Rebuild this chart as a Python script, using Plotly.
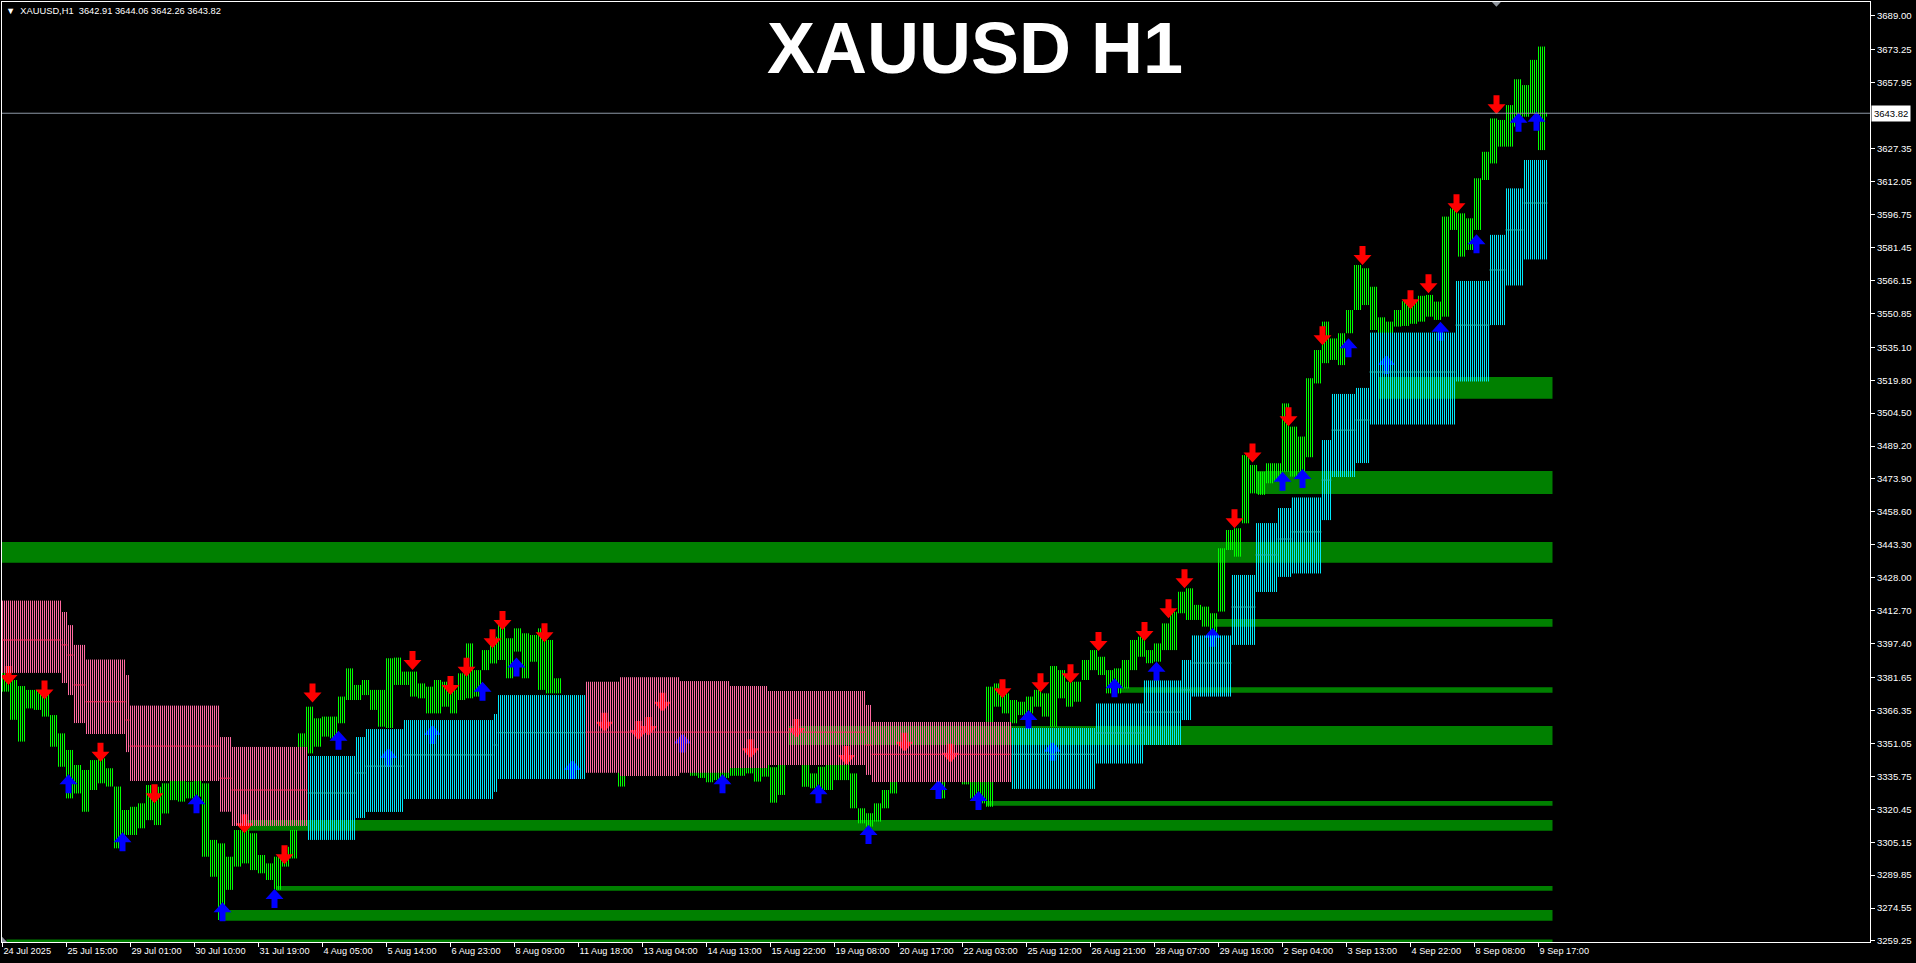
import plotly.graph_objects as go

# ---- price bars, grouped 4 x H1 bars per column (high / low) ----
bar_high = [
    3385.1, 3380.5, 3377.7, 3375.9, 3375.9, 3374.3, 3364.2, 3355.7, 3348.0, 3341.0,
    3338.7, 3343.3, 3344.1, 3339.5, 3331.0, 3320.1, 3321.6, 3323.2, 3331.7, 3330.9,
    3332.5, 3334.0, 3334.0, 3333.3, 3334.0, 3332.5, 3306.2, 3304.6, 3298.4, 3310.8,
    3310.8, 3309.3, 3299.2, 3295.3, 3298.4, 3303.0, 3310.8, 3355.7, 3368.1, 3362.7,
    3363.5, 3363.5, 3372.8, 3385.9, 3378.2, 3380.5, 3375.9, 3375.9, 3390.6, 3390.9,
    3384.4, 3384.4, 3378.9, 3377.4, 3380.5, 3379.7, 3375.9, 3383.6, 3397.5, 3385.1,
    3394.4, 3400.6, 3408.4, 3399.9, 3404.5, 3402.2, 3401.4, 3404.5, 3399.1, 3381.3,
    3373.0, 3368.0, 3366.0, 3360.0, 3358.0, 3356.0, 3352.0, 3350.0, 3350.0, 3352.0,
    3353.0, 3360.0, 3362.0, 3358.0, 3352.0, 3350.0, 3348.0, 3347.0, 3345.0, 3346.0,
    3344.0, 3343.0, 3345.0, 3347.0, 3345.0, 3342.0, 3340.0, 3342.0, 3350.0, 3348.0,
    3341.0, 3337.1, 3340.2, 3342.5, 3343.3, 3342.5, 3337.1, 3320.9, 3318.6, 3323.2,
    3329.4, 3335.6, 3342.0, 3348.0, 3346.0, 3344.0, 3343.0, 3340.0, 3343.0, 3340.0,
    3338.0, 3336.0, 3333.5, 3377.4, 3378.9, 3374.3, 3371.2, 3370.4, 3372.8, 3375.9,
    3374.3, 3387.0, 3385.1, 3379.7, 3379.7, 3389.8, 3394.4, 3391.3, 3385.1, 3385.9,
    3389.8, 3399.1, 3400.6, 3394.4, 3397.5, 3406.8, 3412.2, 3421.5, 3423.1, 3415.4,
    3414.6, 3411.5, 3441.7, 3450.2, 3451.0, 3485.0, 3480.4, 3477.3, 3481.2, 3481.2,
    3509.0, 3498.2, 3493.6, 3520.7, 3533.8, 3547.0, 3539.2, 3541.6, 3552.4, 3573.3,
    3571.8, 3563.2, 3549.0, 3547.0, 3552.4, 3556.5, 3556.5, 3559.0, 3559.4, 3556.3,
    3595.8, 3599.6, 3597.3, 3595.0, 3613.6, 3625.9, 3641.4, 3640.7, 3647.6, 3659.6,
    3656.9, 3668.6, 3674.8, 3644.06,
]
bar_low = [
    3375.1, 3362.0, 3351.9, 3367.3, 3366.6, 3363.5, 3349.5, 3340.2, 3325.5, 3327.8,
    3319.3, 3329.4, 3332.5, 3331.0, 3302.3, 3308.5, 3308.5, 3311.6, 3315.4, 3313.1,
    3318.5, 3324.7, 3324.0, 3325.5, 3326.3, 3298.4, 3289.1, 3269.0, 3283.0, 3293.8,
    3295.3, 3292.2, 3290.7, 3287.6, 3283.0, 3293.8, 3297.6, 3346.4, 3346.4, 3349.5,
    3354.2, 3353.4, 3360.4, 3371.2, 3371.2, 3373.5, 3366.6, 3358.8, 3358.2, 3378.2,
    3378.2, 3372.8, 3372.0, 3365.0, 3365.0, 3368.1, 3365.0, 3371.2, 3372.0, 3372.8,
    3385.1, 3388.2, 3389.8, 3381.3, 3393.7, 3381.3, 3389.0, 3375.9, 3374.3, 3374.3,
    3362.0, 3356.0, 3352.0, 3349.0, 3347.0, 3345.0, 3340.0, 3331.0, 3338.0, 3340.0,
    3341.0, 3346.0, 3348.0, 3344.0, 3340.0, 3338.0, 3336.0, 3335.0, 3333.0, 3334.0,
    3335.0, 3336.0, 3336.0, 3337.1, 3333.3, 3335.6, 3323.5, 3327.1, 3341.0, 3341.0,
    3330.9, 3330.2, 3329.4, 3329.4, 3334.0, 3334.0, 3320.9, 3313.9, 3312.4, 3314.7,
    3320.9, 3327.8, 3335.0, 3336.0, 3335.0, 3334.0, 3334.0, 3325.5, 3335.0, 3334.0,
    3332.0, 3325.5, 3323.2, 3321.6, 3368.1, 3365.0, 3360.4, 3364.2, 3365.0, 3368.1,
    3363.5, 3358.8, 3372.0, 3368.1, 3370.4, 3380.5, 3385.1, 3382.8, 3374.3, 3374.3,
    3376.6, 3385.1, 3391.3, 3388.3, 3389.0, 3394.4, 3394.4, 3411.5, 3408.4, 3408.4,
    3405.3, 3402.2, 3412.3, 3440.9, 3437.8, 3453.3, 3467.2, 3466.5, 3471.9, 3472.7,
    3477.3, 3475.0, 3477.3, 3484.0, 3518.3, 3527.7, 3529.2, 3526.8, 3541.6, 3552.4,
    3554.7, 3543.1, 3539.0, 3539.0, 3544.7, 3545.0, 3546.0, 3547.0, 3549.3, 3547.8,
    3549.3, 3589.6, 3577.2, 3580.3, 3589.6, 3612.8, 3620.5, 3628.3, 3628.3, 3637.6,
    3642.2, 3643.8, 3626.7, 3642.26,
]
BARS_PER_GROUP = 4
LAST_BAR = 772

# ---- trend cloud: steps (first bar, end bar, upper, lower, middle, trend) ----
cloud_start = [0, 30, 33, 36, 42, 62, 64, 109, 115, 153, 177, 182, 201, 246, 248,
               292, 309, 339, 364, 383, 432, 435, 505, 547, 571, 590, 595, 615,
               627, 638, 645, 660, 665, 677, 684, 727, 744, 752, 761]
cloud_end = [30, 33, 36, 42, 62, 64, 109, 115, 153, 177, 182, 201, 246, 248, 292,
             309, 339, 364, 383, 432, 435, 505, 547, 571, 590, 595, 615, 627,
             638, 645, 660, 665, 677, 684, 727, 744, 752, 761, 773]
cloud_upper = [3417.4, 3412.1, 3406.0, 3396.8, 3390.0, 3382.8, 3368.6, 3354.0, 3349.4,
               3345.2, 3354.0, 3357.7, 3361.9, 3364.7, 3373.5, 3379.7, 3381.8, 3380.0,
               3377.7, 3375.4, 3368.9, 3361.0, 3358.2, 3369.6, 3380.3, 3389.8, 3401.2,
               3429.3, 3453.4, 3460.4, 3465.3, 3492.0, 3513.4, 3516.2, 3541.9, 3565.9,
               3587.3, 3608.9, 3622.1]
cloud_lower = [3383.8, 3379.1, 3373.5, 3360.5, 3355.4, 3347.0, 3333.6, 3319.3, 3312.7,
               3306.2, 3316.4, 3319.2, 3325.2, 3328.5, 3334.5, 3337.4, 3335.9, 3337.4,
               3339.6, 3341.0, 3336.4, 3333.1, 3329.9, 3341.7, 3350.3, 3361.9, 3372.8,
               3396.8, 3421.4, 3428.4, 3430.0, 3454.8, 3474.8, 3481.3, 3499.2, 3519.2,
               3545.4, 3563.8, 3575.9]
cloud_mid = [3399.1, 3396.8, 3392.1, 3378.2, 3370.4, 3361.9, 3349.8, 3334.9, 3329.4,
             3328.0, 3337.3, 3340.5, 3345.7, 3350.3, 3356.0, 3356.3, 3356.3, 3356.3,
             3356.3, 3356.3, 3350.3, 3346.0, 3346.0, 3355.9, 3365.6, 3375.9, 3388.4,
             3414.4, 3438.6, 3446.0, 3449.3, 3473.4, 3496.6, 3501.3, 3523.6, 3545.4,
             3571.0, 3589.6, 3602.1]
cloud_trend = ["down"] * 9 + ["up"] * 6 + ["down"] * 7 + ["up"] * 17

# ---- support / resistance zones ----
zone_start = [-0.25, 627, 688, 606, 559, 393, 492, 122, 137, 109, 2]
zone_top = [3444.6, 3477.6, 3521.3, 3408.8, 3377.1, 3359.1, 3324.3, 3315.5, 3284.8, 3273.7, 3259.9]
zone_bottom = [3435.0, 3466.9, 3511.2, 3405.3, 3374.6, 3350.3, 3322.1, 3310.5, 3282.6, 3268.7, 3258.8]
zone_end = 775

# ---- signal arrows (bar index, price at the arrow tip) ----
red_arrow_bar = [3, 21, 49, 76, 121, 141, 155, 205, 224, 232, 245, 250, 271, 301, 318,
                 323, 330, 374, 397, 422, 451, 474, 500, 519, 534, 548, 571, 583, 591,
                 616, 625, 643, 660, 680, 704, 713, 727, 747]
red_arrow_price = [3378.2, 3371.5, 3342.5, 3323.2, 3309.3, 3294.9, 3370.1, 3385.1, 3373.5,
                   3382.0, 3395.2, 3403.7, 3398.0, 3356.5, 3352.6, 3354.5, 3365.8, 3344.1,
                   3353.5, 3341.0, 3347.2, 3342.1, 3372.0, 3374.8, 3379.0, 3394.0, 3398.6,
                   3409.2, 3423.1, 3451.0, 3481.6, 3498.4, 3536.0, 3573.3, 3552.7, 3560.2,
                   3597.3, 3643.3]
blue_arrow_bar = [33, 60, 97, 110, 136, 168, 193, 215, 240, 257, 285, 340, 360, 408, 433,
                  468, 488, 513, 525, 556, 577, 605, 640, 650, 673, 692, 719, 737, 758, 767]
blue_arrow_price = [3336.7, 3309.8, 3327.4, 3277.2, 3283.4, 3356.9, 3348.9, 3359.6, 3379.7,
                    3391.0, 3343.3, 3355.7, 3336.7, 3332.1, 3313.1, 3334.0, 3328.9, 3366.6,
                    3351.8, 3381.3, 3389.0, 3404.8, 3477.3, 3478.5, 3539.3, 3531.5, 3547.0,
                    3587.6, 3644.1, 3644.5]

# ---- axes ----
time_labels = ["24 Jul 2025", "25 Jul 15:00", "29 Jul 01:00", "30 Jul 10:00", "31 Jul 19:00",
               "4 Aug 05:00", "5 Aug 14:00", "6 Aug 23:00", "8 Aug 09:00", "11 Aug 18:00",
               "13 Aug 04:00", "14 Aug 13:00", "15 Aug 22:00", "19 Aug 08:00", "20 Aug 17:00",
               "22 Aug 03:00", "25 Aug 12:00", "26 Aug 21:00", "28 Aug 07:00", "29 Aug 16:00",
               "2 Sep 04:00", "3 Sep 13:00", "4 Sep 22:00", "8 Sep 08:00", "9 Sep 17:00"]
BARS_PER_LABEL = 32
price_ticks = [3689.00, 3673.25, 3657.95, 3627.35, 3612.05, 3596.75, 3581.45, 3566.15,
               3550.85, 3535.10, 3519.80, 3504.50, 3489.20, 3473.90, 3458.60, 3443.30,
               3428.00, 3412.70, 3397.40, 3381.65, 3366.35, 3351.05, 3335.75, 3320.45,
               3305.15, 3289.85, 3274.55, 3259.25]
last_ohlc = "3642.91 3644.06 3642.26 3643.82"
last_price = 3643.82

Y_RANGE = [3258.78, 3695.50]
X_RANGE = [-0.25, 933.75]
PLOT_H = 940
BAR_PX = 2.0
PRICE_PX = (Y_RANGE[1] - Y_RANGE[0]) / PLOT_H

PINK = "#ff6aa0"
CYAN = "#00e8f8"
LIME = "#00ff00"
ZONE = "#008000"
FONT = "Liberation Sans"


def vlines(xs_, lows, highs):
    xs, ys = [], []
    for x, lo, hi in zip(xs_, lows, highs):
        xs += [x, x, None]
        ys += [lo, hi, None]
    return xs, ys


def arrow_path(bars, prices, direction):
    outline = [(0, 0), (-9, 10), (-3, 10), (-3, 19), (3, 19), (3, 10), (9, 10), (0, 0)]
    xs, ys = [], []
    for b, p in zip(bars, prices):
        for dx, dy in outline:
            xs.append(b + dx / BAR_PX)
            ys.append(p + direction * dy * PRICE_PX)
        xs.append(None)
        ys.append(None)
    return xs, ys


fig = go.Figure()

# price bars: every H1 bar of a group drawn as a 1px vertical line
cb, clo, chi = [], [], []
for g, (hi, lo) in enumerate(zip(bar_high, bar_low)):
    for k in range(BARS_PER_GROUP):
        b = g * BARS_PER_GROUP + k
        if b <= LAST_BAR:
            cb.append(b)
            clo.append(lo)
            chi.append(hi)
cx, cy = vlines(cb, clo, chi)
fig.add_trace(go.Scatter(x=cx, y=cy, mode="lines", line=dict(color=LIME, width=1),
                         hoverinfo="skip"))

# arrows
ax, ay = arrow_path(red_arrow_bar, red_arrow_price, 1)
fig.add_trace(go.Scatter(x=ax, y=ay, mode="none", fill="toself", fillcolor="#ff0000",
                         hoverinfo="skip"))
ax, ay = arrow_path(blue_arrow_bar, blue_arrow_price, -1)
fig.add_trace(go.Scatter(x=ax, y=ay, mode="none", fill="toself", fillcolor="#0000ff",
                         hoverinfo="skip"))

# cloud: one 1px line per bar between lower and upper band
for trend, color, midcolor in [("down", PINK, "#ff2d5c"), ("up", CYAN, "#1fb8b0")]:
    idx = [i for i, t in enumerate(cloud_trend) if t == trend]
    lb, llo, lhi = [], [], []
    for i in idx:
        for b in range(cloud_start[i], cloud_end[i]):
            lb.append(b)
            llo.append(cloud_lower[i])
            lhi.append(cloud_upper[i])
    px, py = vlines(lb, llo, lhi)
    fig.add_trace(go.Scatter(x=px, y=py, mode="lines", line=dict(color=color, width=1),
                             hoverinfo="skip"))
    mx, my = [], []
    for i in idx:
        mx += [cloud_start[i] - 0.5, cloud_end[i] - 0.5, None]
        my += [cloud_mid[i], cloud_mid[i], None]
    fig.add_trace(go.Scatter(x=mx, y=my, mode="lines", line=dict(color=midcolor, width=1),
                             hoverinfo="skip"))

shapes = []
for s, t, b in zip(zone_start, zone_top, zone_bottom):
    shapes.append(dict(type="rect", xref="x", yref="y", x0=s, x1=zone_end, y0=b, y1=t,
                       fillcolor=ZONE, line=dict(width=0), layer="below"))
shapes.append(dict(type="line", xref="paper", yref="y", x0=0, x1=1, y0=last_price, y1=last_price,
                   line=dict(color="#8d99a6", width=1), layer="above"))
shapes.append(dict(type="path", xref="paper", yref="paper",
                   path="M 0.7976,1 L 0.8024,1 L 0.8000,0.9950 Z",
                   fillcolor="#8e949c", line=dict(width=0)))
shapes.append(dict(type="path", xref="paper", yref="paper",
                   path="M 0,0 L 0.0027,0 L 0,0.0055 Z",
                   fillcolor="#8e949c", line=dict(width=0)))

annotations = [
    dict(text="<b>XAUUSD H1</b>", xref="paper", yref="paper", x=0.5207, y=0.9514,
         xanchor="center", yanchor="middle", showarrow=False,
         font=dict(family=FONT, size=72, color="white")),
    dict(text="\u25bc\u00a0\u00a0XAUUSD,H1\u00a0\u00a0" + last_ohlc.replace(" ", "\u00a0"),
         xref="paper", yref="paper", x=0, y=1, xanchor="left", yanchor="top",
         xshift=2, yshift=-2, showarrow=False, font=dict(family=FONT, size=9.3, color="white")),
    dict(text=f"{last_price:.2f}", xref="paper", yref="y", x=1, y=last_price,
         xanchor="left", yanchor="middle", xshift=1, showarrow=False, bgcolor="white",
         borderpad=2, font=dict(family=FONT, size=9.5, color="black")),
]

fig.update_layout(
    template="none",
    width=1916, height=963,
    margin=dict(l=2, r=46, t=2, b=21, pad=0),
    paper_bgcolor="black", plot_bgcolor="black",
    showlegend=False, hovermode=False,
    font=dict(family=FONT, size=9.5, color="white"),
    xaxis=dict(range=X_RANGE, tickmode="array",
               tickvals=[k * BARS_PER_LABEL for k in range(len(time_labels))],
               ticktext=time_labels, ticks="outside", ticklen=4, tickcolor="white",
               ticklabelposition="outside right", tickfont=dict(size=9.2, color="white"),
               showline=True, linecolor="white", linewidth=1, mirror=True,
               showgrid=False, zeroline=False, automargin=False, fixedrange=True),
    yaxis=dict(range=Y_RANGE, side="right", tickmode="array", tickvals=price_ticks,
               ticktext=[f"{v:.2f}" for v in price_ticks], ticks="outside", ticklen=4,
               tickcolor="white", tickfont=dict(size=9.6, color="white"),
               showline=True, linecolor="white", linewidth=1, mirror=True,
               showgrid=False, zeroline=False, automargin=False, fixedrange=True),
    shapes=shapes,
    annotations=annotations,
)

fig.write_html("out.html", config={"displayModeBar": False},
               post_script="document.body.style.margin='0';")
